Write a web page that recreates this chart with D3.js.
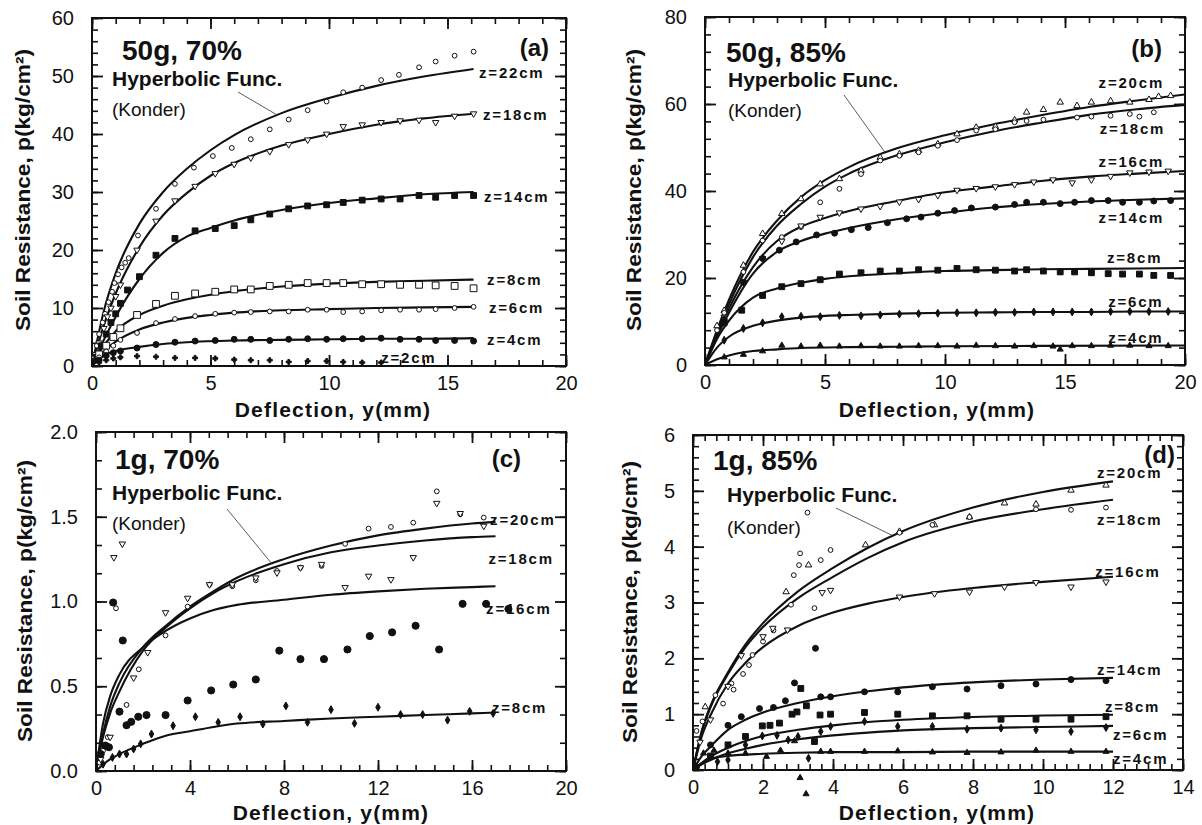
<!DOCTYPE html>
<html>
<head>
<meta charset="utf-8">
<script src="https://cdn.jsdelivr.net/npm/d3@7"></script>
<style>
  body { margin: 0; background: #fff; }
  svg text { font-family: "Liberation Sans", Arial, sans-serif; fill: #111; }
</style>
</head>
<body>
<svg id="chart" width="1202" height="825"></svg>
<script>
// ---------- data: panel (a) 50g, 70% ----------
const aDepths = ["z=22cm", "z=18cm", "z=14cm", "z=8cm", "z=6cm", "z=4cm", "z=2cm"];
const aFit22 = [[0,0],[0.5,9.5],[1,16],[2,24.5],[3,30],[4,34],[5,37.2],[6,39.8],[8,43.6],[10,46.2],[12,48.3],[14,49.9],[16.1,51.2]];
const aFit18 = [[0,0],[0.5,7],[1,12.5],[2,20.5],[3,26],[4,29.8],[5,32.8],[6,35],[8,38],[10,40],[12,41.6],[14,42.7],[16.1,43.5]];
const aFit14 = [[0,0],[0.5,4.5],[1,8.5],[1.5,12],[2,15],[3,19.5],[4,22.3],[5,23.8],[6,25.1],[8,26.9],[10,28.1],[12,28.9],[14,29.6],[16.1,30]];
const aFit8  = [[0,0],[0.5,3.5],[1,6],[2,8.8],[3,10.4],[4,11.5],[5,12.3],[6,12.9],[8,13.7],[10,14.2],[12,14.5],[14,14.7],[16.1,14.9]];
const aFit6  = [[0,0],[0.5,2.5],[1,4.2],[2,6.3],[3,7.5],[4,8.3],[5,8.8],[6,9.2],[8,9.6],[10,9.8],[12,10],[14,10.1],[16.1,10.2]];
const aFit4  = [[0,0],[0.5,1.8],[1,2.6],[2,3.3],[3,3.8],[4,4.1],[6,4.4],[8,4.5],[10,4.6],[12,4.7],[14,4.7],[16.1,4.8]];
const aPts22 = [[0.1,1.5],[0.2,3.5],[0.3,5.5],[0.45,7.5],[0.55,9],[0.7,11],[0.85,12.8],[0.95,14.3],[1.1,15.8],[1.25,17],[1.4,17.8],[1.55,18.6],[1.94,22.5],[2.7,27.1],[3.5,31.4],[4.3,34.2],[5.1,36.2],[5.9,37.6],[6.7,39.1],[7.5,40.8],[8.3,42.5],[9.1,44.1],[9.9,45.6],[10.6,47.2],[11.4,48],[12.2,49.3],[12.95,50.2],[13.8,51.5],[14.5,52.5],[15.3,53.5],[16.1,54.2]];
const aPts18 = [[0.15,2],[0.3,4],[0.5,6.5],[0.65,8.5],[0.8,10],[1,12],[1.2,14],[1.9,20],[2.7,25],[3.5,28.5],[4.35,31],[5.2,33.2],[6,34.8],[6.7,35.9],[7.5,37],[8.3,38.2],[9.1,39],[9.9,40],[10.6,41.3],[11.4,41.6],[12.2,42],[13,42.3],[13.8,42.4],[14.5,42],[15.3,43.1],[16.1,43.5]];
const aPts14 = [[0.2,1.5],[0.4,3.5],[0.6,5.5],[0.8,7.5],[1,9],[1.2,10.8],[1.5,13.1],[2,15.4],[2.7,19.1],[3.5,22],[4.35,23.3],[5.2,23.7],[6,24.2],[6.7,25.2],[7.5,26.2],[8.3,27.1],[9.1,27.6],[9.9,27.8],[10.6,28.2],[11.4,28.6],[12.2,28.8],[13,28.8],[13.8,29.4],[14.5,29.1],[15.3,29.4],[16.1,29.4]];
const aPts8  = [[0.3,2],[0.6,3.5],[0.9,5],[1.2,6.5],[1.9,8.8],[2.7,10.7],[3.5,12.1],[4.35,12.5],[5.2,12.8],[6,13.2],[6.7,13.2],[7.5,13.8],[8.3,14],[9.1,14.3],[9.9,14.3],[10.6,14.3],[11.4,14.1],[12.2,14.1],[13,14],[13.8,14],[14.5,13.9],[15.3,13.8],[16.1,13.4]];
const aPts6  = [[0.3,1.5],[0.6,2.5],[0.9,3.5],[1.2,4.5],[1.9,5.7],[2.7,7.4],[3.5,8.1],[4.35,8.6],[5.2,9],[6,9.2],[6.7,9.3],[7.5,9.4],[8.3,9.4],[9.1,9.7],[9.9,9.7],[10.6,9.3],[11.4,9.4],[12.2,9.6],[13,9.7],[13.8,9.7],[14.5,9.8],[15.3,10],[16.1,10.2]];
const aPts4  = [[0.3,1],[0.6,1.8],[0.9,2.3],[1.2,2.6],[1.9,3.1],[2.7,3.7],[3.5,4.1],[4.35,4.3],[5.2,4.4],[6,4.6],[6.7,4.6],[7.5,4.4],[8.3,4.6],[9.1,4.7],[9.9,4.6],[10.6,4.7],[11.4,4.7],[12.2,4.8],[13,4.6],[13.8,4.6],[14.5,4.4],[15.3,4.4],[16.1,4.3]];
const aPts2  = [[0.3,0.6],[0.6,1],[0.9,1.3],[1.2,1.5],[1.9,1.7],[2.7,1.6],[3.5,1.4],[4.35,1.4],[5.2,1.3],[6,1.1],[6.7,1],[7.5,1],[8.3,0.7],[9.1,0.85],[9.9,0.85],[10.6,0.7],[11.4,0.6],[12.2,0.6]];
const aLabelAt = [[16.33,50.5],[16.5,43.3],[16.54,29.1],[16.67,14.8],[16.75,10],[16.67,4.5],[12.2,1.4]];

// ---------- data: panel (b) 50g, 85% ----------
const bDepths = ["z=20cm", "z=18cm", "z=16cm", "z=14cm", "z=8cm", "z=6cm", "z=4cm"];
const bFit20 = [[0,0],[0.5,8],[1,15],[2,26],[3,33.2],[4,38.6],[5,42.5],[6,45.5],[8,49.8],[10,52.8],[12,55.3],[14,57.4],[16,59.3],[18,60.8],[20,62.2]];
const bFit18 = [[0,0],[0.5,7.5],[1,14],[2,24.8],[3,32],[4,37],[5,41],[6,44],[8,48.2],[10,51.2],[12,53.7],[14,55.7],[16,57.5],[18,58.8],[20,59.8]];
const bFit16 = [[0,0],[0.5,7],[1,13],[2,22.5],[3,28.5],[4,31.8],[5,33.8],[6,35.4],[8,37.7],[10,39.7],[12,41],[14,42.3],[16,43.3],[18,44],[20,44.6]];
const bFit14 = [[0,0],[0.5,6.5],[1,12],[2,21],[3,26],[4,28.5],[5,30.2],[6,31.5],[8,33.5],[10,35],[12,36.2],[14,37],[16,37.6],[18,38],[20,38.3]];
const bFit8  = [[0,0],[0.5,6],[1,10.2],[2,15.5],[3,17.6],[4,18.9],[5,19.8],[6,20.4],[8,21.1],[10,21.6],[12,21.8],[14,22],[16,22.1],[18,22.2],[20,22.3]];
const bFit6  = [[0,0],[0.5,4],[1,6.5],[2,9],[3,10.2],[4,10.9],[5,11.3],[6,11.5],[8,11.8],[10,12],[12,12.1],[14,12.2],[16,12.2],[18,12.3],[20,12.3]];
const bFit4  = [[0,0],[0.5,1.3],[1,2.2],[2,3.2],[3,3.6],[4,3.9],[6,4.1],[8,4.2],[10,4.3],[14,4.4],[20,4.5]];
const bPts20 = [[0.5,9],[0.8,12.5],[1.6,22.9],[2.4,30.2],[3.2,34.8],[4,38.2],[4.8,41.6],[5.6,42.8],[6.5,44.7],[7.3,47.7],[8.1,48.5],[8.9,49.3],[9.7,50.8],[10.5,53.1],[11.3,54.6],[12.1,54.8],[12.9,56.3],[13.4,58.1],[14.1,58.7],[14.8,60.4],[15.5,59.6],[16.1,60.4],[16.9,60.7],[17.7,60.4],[18.5,61],[18.9,61.7],[19.4,61.9]];
const bPts18 = [[0.5,8],[0.8,12],[1.6,21.4],[2.4,28.6],[3.2,29.4],[4,31.7],[4.8,37.4],[5.6,40.5],[6.5,43.9],[7.3,47],[8.1,48.1],[8.9,48.9],[9.7,50.4],[10.5,51.7],[11.3,53.9],[12.1,54.2],[12.9,55.8],[13.4,56.1],[14.1,56.4],[15.5,56.9],[16.1,57.1],[16.9,57.3],[17.7,57.7],[18.1,57.1],[18.7,58.1]];
const bPts16 = [[0.8,11],[1.6,19],[2.4,24.5],[3.2,28.5],[4,32],[4.8,34],[5.6,35],[6.5,35.9],[7.3,36.5],[8.1,37.5],[8.9,38.1],[9.7,39],[10.5,40.2],[11.3,40.6],[12.1,41],[12.9,41.5],[13.7,42.1],[14.5,42.6],[15.3,41.9],[16.1,42.6],[16.9,43.4],[17.7,44.2],[18.5,44.4],[19.3,44.6]];
const bPts14 = [[0.8,10.5],[1.6,19],[2.4,24.5],[3.1,26.4],[3.8,28.3],[4.65,29.9],[5.4,30.3],[6.1,31.1],[6.8,31.6],[7.6,32.7],[8.4,33.6],[9,34],[9.7,34.9],[10.4,35.5],[11.1,36.1],[12.1,36.3],[12.9,36.9],[13.4,37.4],[14.1,37.4],[14.8,37.1],[15.4,37.4],[16.1,37.8],[16.8,37.8],[17.4,37.4],[18.1,37.4],[18.7,37.7],[19.4,37.8]];
const bPts8  = [[0.8,9.7],[1.53,12.6],[2.4,16],[3.2,18],[4,18.7],[4.8,19.6],[5.6,20.9],[6.5,21.2],[7.3,21.6],[8.1,21.6],[8.9,21.9],[9.7,21.8],[10.5,22.2],[11.3,21.9],[12.1,21.8],[12.9,21.6],[13.4,21.9],[14.1,21.6],[14.8,21.4],[15.4,21.4],[16.1,21.2],[16.8,21],[17.4,20.9],[18.1,20.9],[18.7,20.6],[19.4,20.6]];
const bPts6  = [[0.8,5.7],[1.6,8.4],[2.4,9.7],[3.2,11.1],[4,11.2],[4.8,11.1],[5.6,11.4],[6.5,11.3],[7.3,11.5],[8.1,11.7],[8.9,11.8],[9.7,11.9],[10.5,12],[11.3,12],[12.1,12.1],[12.9,12.1],[13.7,12.2],[14.5,12.2],[15.3,12.2],[16.1,12.2],[16.9,12.3],[17.7,12.3],[18.5,12.3],[19.3,12.3]];
const bPts4  = [[0.8,1.8],[1.6,2.4],[2.4,3.2],[3.2,4.5],[4,4.3],[4.8,4.5],[5.6,4.3],[6.5,4.4],[7.3,4.3],[8.1,4.3],[8.9,4.4],[9.7,4.4],[10.5,4.3],[11.3,4.5],[12.1,4.4],[12.9,4.3],[13.7,4.4],[14.5,4.3],[14.8,3.6],[15.3,4.4],[16.1,4.4],[16.9,4.5],[17.7,4.5],[18.5,4.4],[19.3,4.4]];
const bLabelAt = [[16.4,65],[16.45,54.3],[16.4,46.7],[16.4,33.8],[16.75,24.6],[16.8,14.5],[16.8,6.2]];

// ---------- data: panel (c) 1g, 70% ----------
const cDepths = ["z=20cm", "z=18cm", "z=16cm", "z=8cm"];
const cFit20 = [[0,0],[0.3,0.22],[0.6,0.38],[1,0.52],[2,0.73],[3,0.86],[4,0.97],[5,1.06],[6,1.14],[8,1.25],[10,1.33],[12,1.39],[14,1.43],[16,1.46],[17,1.47]];
const cFit18 = [[0,0],[0.3,0.2],[0.6,0.34],[1,0.47],[2,0.71],[3,0.85],[4,0.96],[5,1.05],[6,1.12],[8,1.22],[10,1.29],[12,1.33],[14,1.36],[16,1.38],[17,1.385]];
const cFit16 = [[0,0],[0.3,0.28],[0.6,0.44],[1,0.57],[2,0.73],[3,0.83],[4,0.9],[5,0.95],[6,0.98],[8,1.01],[10,1.04],[12,1.06],[14,1.075],[16,1.085],[17,1.09]];
const cFit8  = [[0,0],[0.5,0.06],[1,0.1],[2,0.16],[3,0.21],[4,0.235],[5,0.26],[6,0.28],[8,0.295],[10,0.31],[12,0.32],[14,0.33],[16,0.34],[17,0.345]];
const cPts20 = [[0.15,0.05],[0.3,0.12],[0.5,0.2],[0.85,0.96],[1.3,0.39],[1.82,0.6],[2.96,0.8],[3.9,0.97],[4.83,1.1],[5.8,1.09],[6.8,1.125],[7.7,1.18],[8.7,1.2],[9.6,1.21],[10.6,1.34],[11.6,1.43],[12.55,1.44],[13.5,1.465],[14.5,1.65],[15.5,1.515],[16.5,1.495]];
const cPts18 = [[0.2,0.07],[0.4,0.15],[0.6,0.2],[0.76,1.26],[1.12,1.34],[1.6,0.55],[2.2,0.7],[2.96,0.935],[3.9,1.02],[4.83,1.1],[5.8,1.1],[6.8,1.14],[7.7,1.17],[8.7,1.2],[9.6,1.22],[10.6,1.083],[11.6,1.15],[12.55,1.13],[13.5,1.26],[14.5,1.58],[15.5,1.52],[16.5,1.445]];
const cPts16 = [[0.2,0.1],[0.4,0.15],[0.55,0.14],[0.73,0.994],[1.14,0.77],[1,0.35],[1.3,0.27],[1.5,0.29],[1.8,0.32],[2.15,0.33],[2.96,0.33],[3.9,0.416],[4.9,0.475],[5.84,0.51],[6.8,0.54],[7.8,0.71],[8.7,0.66],[9.7,0.66],[10.7,0.717],[11.65,0.796],[12.6,0.818],[13.6,0.857],[14.6,0.717],[15.6,0.986],[16.6,0.986],[17.55,0.956]];
const cPts8  = [[0.3,0.04],[0.7,0.08],[1,0.1],[1.3,0.1],[1.6,0.13],[1.9,0.16],[2.36,0.218],[3.28,0.267],[4.23,0.32],[5.2,0.287],[6.13,0.32],[7.1,0.277],[8.08,0.384],[9,0.287],[10,0.362],[11,0.281],[12,0.376],[12.96,0.333],[13.9,0.333],[14.96,0.3],[15.9,0.352],[16.9,0.34]];
const cLabelAt = [[16.77,1.48],[16.7,1.25],[16.6,0.956],[16.85,0.372]];

// ---------- data: panel (d) 1g, 85% ----------
const dDepths = ["z=20cm", "z=18cm", "z=16cm", "z=14cm", "z=8cm", "z=6cm", "z=4cm"];
const dFit20 = [[0,0],[0.25,0.7],[0.5,1.15],[1,1.75],[1.5,2.25],[2,2.63],[3,3.2],[4,3.62],[5,3.98],[6,4.28],[8,4.7],[10,4.98],[12,5.17]];
const dFit18 = [[0,0],[0.25,0.68],[0.5,1.12],[1,1.72],[1.5,2.2],[2,2.56],[3,3.08],[4,3.46],[5,3.8],[6,4.08],[8,4.45],[10,4.67],[12,4.84]];
const dFit16 = [[0,0],[0.25,0.6],[0.5,0.98],[1,1.55],[1.5,1.92],[2,2.2],[3,2.58],[4,2.82],[5,2.98],[6,3.1],[8,3.26],[10,3.37],[12,3.46]];
const dFit14 = [[0,0],[0.25,0.25],[0.5,0.42],[1,0.72],[1.5,0.9],[2,1.03],[3,1.2],[4,1.32],[5,1.41],[6,1.48],[8,1.57],[10,1.62],[12,1.65]];
const dFit8  = [[0,0],[0.25,0.13],[0.5,0.24],[1,0.4],[1.5,0.52],[2,0.61],[3,0.72],[4,0.8],[5,0.86],[6,0.9],[8,0.95],[10,0.975],[12,0.99]];
const dFit6  = [[0,0],[0.25,0.1],[0.5,0.18],[1,0.3],[1.5,0.38],[2,0.45],[3,0.55],[4,0.62],[5,0.67],[6,0.71],[8,0.75],[10,0.77],[12,0.79]];
const dFit4  = [[0,0],[0.25,0.12],[0.5,0.2],[1,0.25],[2,0.29],[3,0.31],[4,0.32],[6,0.32],[8,0.33],[10,0.33],[12,0.33]];
const dPts20 = [[0.35,1.13],[2.66,3.19],[3.3,3.67],[4.93,4.03],[5.9,4.27],[6.9,4.39],[7.9,4.53],[8.9,4.78],[9.8,4.76],[10.8,5.01],[11.8,5.1]];
const dPts18 = [[0.1,0.7],[0.27,0.87],[0.64,1.34],[0.86,1.19],[1.1,1.55],[1.16,1.44],[1.43,1.72],[1.6,1.88],[1.7,2.06],[2,2.3],[2.3,2.5],[2.8,2.96],[2.88,3.49],[3.03,3.67],[3.06,3.88],[3.27,4.61],[3.47,2.9],[3.65,3.76],[3.93,3.94],[5.9,4.25],[6.84,4.39],[7.9,4.53],[9.8,4.67],[10.8,4.66],[11.8,4.7]];
const dPts16 = [[0.2,0.5],[0.5,0.9],[1,1.5],[1.38,2.05],[2,2.39],[2.28,2.54],[2.7,2.51],[3.69,3.18],[3.93,3.22],[5.9,3.1],[6.9,3.16],[7.9,3.19],[8.9,3.28],[9.8,3.36],[10.8,3.28],[11.8,3.37]];
const dPts14 = [[0.1,0.05],[0.5,0.45],[1,0.8],[1.38,0.955],[1.9,1.1],[2.3,1.12],[2.64,1.24],[2.9,1.56],[3.5,2.18],[3.65,1.31],[3.93,1.31],[4.9,1.4],[5.85,1.4],[6.84,1.49],[7.83,1.45],[8.8,1.51],[9.8,1.54],[10.8,1.62],[11.8,1.6]];
const dPts8  = [[0.5,0.25],[1,0.45],[1.5,0.6],[1.98,0.79],[2.2,0.8],[2.47,0.84],[2.83,1],[2.97,1.04],[3.08,1.46],[3.24,1.15],[3.47,0.51],[3.63,0.985],[3.93,1],[4.9,1.03],[5.85,1],[6.84,0.97],[7.83,0.97],[8.8,0.91],[9.8,0.91],[10.8,0.91],[11.8,0.955]];
const dPts6  = [[0.7,0.15],[1,0.18],[1.5,0.45],[1.98,0.61],[2.4,0.62],[2.72,0.54],[3,0.6],[3.3,0.21],[3.65,0.69],[3.93,0.78],[4.9,0.87],[5.85,0.78],[6.84,0.78],[7.83,0.73],[8.8,0.75],[9.8,0.72],[10.8,0.69],[11.8,0.76]];
const dPts4  = [[0.3,0.3],[0.6,0.35],[1,0.3],[1.5,0.3],[2.1,0.24],[2.5,0.35],[2.9,0.52],[3.06,-0.14],[3.23,-0.43],[3.65,0.33],[3.93,0.33],[4.9,0.33],[5.85,0.34],[6.84,0.32],[7.83,0.31],[8.8,0.32],[9.8,0.35],[10.8,0.33],[11.8,0.33]];
const dLabelAt = [[11.54,5.32],[11.54,4.48],[11.49,3.55],[11.54,1.79],[11.77,1.13],[12,0.63],[12,0.2]];

// ---------- marker styles ----------
const markers = {
  oc:  {type: d3.symbolCircle,   size: 18, filled: false, rot: 0},
  otd: {type: d3.symbolTriangle, size: 18, filled: false, rot: 180},
  otu: {type: d3.symbolTriangle, size: 18, filled: false, rot: 0},
  fsq: {type: d3.symbolSquare,   size: 34, filled: true,  rot: 0},
  osq: {type: d3.symbolSquare,   size: 46, filled: false, rot: 0},
  fc:  {type: d3.symbolCircle,   size: 28, filled: true,  rot: 0},
  fcl: {type: d3.symbolCircle,   size: 40, filled: true,  rot: 0},
  fd:  {type: d3.symbolDiamond,  size: 18, filled: true,  rot: 0},
  ftu: {type: d3.symbolTriangle, size: 16, filled: true,  rot: 0},
  plus:{type: d3.symbolCross,    size: 14, filled: true,  rot: 0}
};

const svg = d3.select("#chart");

function drawPanel(p) {
  const x = d3.scaleLinear().domain(p.xDom).range([p.box[0], p.box[1]]);
  const y = d3.scaleLinear().domain(p.yDom).range([p.box[3], p.box[2]]);
  const g = svg.append("g");
  const steps = (dom, st) => d3.range(0, Math.round((dom[1] - dom[0]) / st) + 1).map(i => +(dom[0] + i * st).toFixed(4));
  const xMaj = steps(p.xDom, p.xStep), xMin = steps(p.xDom, p.xMinor);
  const yMaj = steps(p.yDom, p.yStep), yMin = steps(p.yDom, p.yMinor);

  // inward ticks on all four sides
  const tickAxes = [
    [d3.axisBottom(x), `translate(0,${p.box[3]})`, xMin, xMaj],
    [d3.axisTop(x), `translate(0,${p.box[2]})`, xMin, xMaj],
    [d3.axisLeft(y), `translate(${p.box[0]},0)`, yMin, yMaj],
    [d3.axisRight(y), `translate(${p.box[1]},0)`, yMin, yMaj]
  ];
  tickAxes.forEach(([ax, tr, mn, mj]) => {
    g.append("g").attr("transform", tr)
      .call(ax.tickValues(mn).tickSize(-6).tickFormat(""))
      .call(s => s.select(".domain").remove())
      .selectAll("line").attr("stroke", "#111").attr("stroke-width", 1.6);
    g.append("g").attr("transform", tr)
      .call(ax.tickValues(mj).tickSize(-11).tickFormat(""))
      .call(s => s.select(".domain").remove())
      .selectAll("line").attr("stroke", "#111").attr("stroke-width", 1.8);
  });

  // tick labels
  g.append("g").attr("transform", `translate(0,${p.box[3]})`)
    .call(d3.axisBottom(x).tickValues(xMaj).tickSize(0).tickPadding(10).tickFormat(d3.format("d")))
    .call(s => s.select(".domain").remove())
    .selectAll("text").attr("font-size", 20).attr("fill", "#111");
  g.append("g").attr("transform", `translate(${p.box[0]},0)`)
    .call(d3.axisLeft(y).tickValues(yMaj).tickSize(0).tickPadding(18).tickFormat(d3.format(p.yFmt)))
    .call(s => s.select(".domain").remove())
    .selectAll("text").attr("font-size", 20).attr("fill", "#111");

  // frame
  g.append("rect")
    .attr("x", p.box[0]).attr("y", p.box[2])
    .attr("width", p.box[1] - p.box[0]).attr("height", p.box[3] - p.box[2])
    .attr("fill", "none").attr("stroke", "#111").attr("stroke-width", 2);

  // fitted hyperbolic curves
  const line = d3.line().x(d => x(d[0])).y(d => y(d[1])).curve(d3.curveMonotoneX);
  g.selectAll(".fit").data(p.fits).join("path")
    .attr("class", "fit")
    .attr("d", line)
    .attr("fill", "none").attr("stroke", "#111").attr("stroke-width", 2.1);

  // measured points
  p.pts.forEach((set, i) => {
    const m = markers[p.kinds[i]];
    const sym = d3.symbol().type(m.type).size(m.size);
    g.selectAll(null).data(set).join("path")
      .attr("d", sym)
      .attr("transform", d => `translate(${x(d[0])},${y(d[1])}) rotate(${m.rot})`)
      .attr("fill", m.filled ? "#111" : "#fff")
      .attr("stroke", "#111").attr("stroke-width", 1);
  });

  // depth labels
  g.selectAll(".zlab").data(p.depths).join("text")
    .attr("class", "zlab")
    .attr("x", (d, i) => x(p.labelAt[i][0]))
    .attr("y", (d, i) => y(p.labelAt[i][1]))
    .attr("dy", "0.35em")
    .attr("font-size", 15).attr("font-weight", "bold").attr("letter-spacing", "1.8px")
    .text(d => d);

  // annotations
  g.append("text").attr("x", p.title[1]).attr("y", p.title[2]).attr("dy", "0.35em")
    .attr("font-size", 28).attr("font-weight", "bold").text(p.title[0]);
  g.append("text").attr("x", p.hyper[0]).attr("y", p.hyper[1]).attr("dy", "0.35em")
    .attr("font-size", 21).attr("font-weight", "bold").text("Hyperbolic Func.");
  g.append("text").attr("x", p.konder[0]).attr("y", p.konder[1]).attr("dy", "0.35em")
    .attr("font-size", 19).text("(Konder)");
  g.append("text").attr("x", p.tag[1]).attr("y", p.tag[2]).attr("dy", "0.35em")
    .attr("text-anchor", "end").attr("font-size", 24).attr("font-weight", "bold").text(p.tag[0]);
  g.append("line")
    .attr("x1", p.leader[0]).attr("y1", p.leader[1])
    .attr("x2", x(p.leaderTo[0])).attr("y2", y(p.leaderTo[1]))
    .attr("stroke", "#333").attr("stroke-width", 0.8);

  // axis titles
  g.append("text").attr("x", p.xTitle[0]).attr("y", p.xTitle[1]).attr("dy", "0.35em")
    .attr("text-anchor", "middle").attr("font-size", 21).attr("font-weight", "bold")
    .attr("letter-spacing", "1.2px").text("Deflection, y(mm)");
  g.append("text")
    .attr("transform", `translate(${p.yTitle[0]},${p.yTitle[1]}) rotate(-90)`)
    .attr("dy", "0.35em").attr("text-anchor", "middle")
    .attr("font-size", 21).attr("font-weight", "bold")
    .attr("textLength", 282).attr("lengthAdjust", "spacingAndGlyphs")
    .text("Soil Resistance, p(kg/cm²)");
}

drawPanel({
  box: [92, 566, 18, 366], xDom: [0, 20], yDom: [0, 60],
  xStep: 5, xMinor: 1, yStep: 10, yMinor: 2, yFmt: "d",
  fits: [aFit22, aFit18, aFit14, aFit8, aFit6, aFit4],
  pts: [aPts22, aPts18, aPts14, aPts8, aPts6, aPts4, aPts2],
  kinds: ["oc", "otd", "fsq", "osq", "oc", "fc", "plus"],
  depths: aDepths, labelAt: aLabelAt,
  title: ["50g, 70%", 122, 50], hyper: [112, 79], konder: [112, 109], tag: ["(a)", 549, 48],
  leader: [238, 92], leaderTo: [7.8, 43.3],
  xTitle: [333, 410], yTitle: [23, 190]
});
drawPanel({
  box: [705, 1185, 17, 365], xDom: [0, 20], yDom: [0, 80],
  xStep: 5, xMinor: 1, yStep: 20, yMinor: 4, yFmt: "d",
  fits: [bFit20, bFit18, bFit16, bFit14, bFit8, bFit6, bFit4],
  pts: [bPts20, bPts18, bPts16, bPts14, bPts8, bPts6, bPts4],
  kinds: ["otu", "oc", "otd", "fc", "fsq", "fd", "ftu"],
  depths: bDepths, labelAt: bLabelAt,
  title: ["50g, 85%", 726, 52], hyper: [728, 80], konder: [728, 110], tag: ["(b)", 1162, 49],
  leader: [844, 95], leaderTo: [7.5, 48.9],
  xTitle: [937, 410], yTitle: [634, 190]
});
drawPanel({
  box: [96, 566, 432, 771], xDom: [0, 20], yDom: [0, 2],
  xStep: 4, xMinor: 0.8, yStep: 0.5, yMinor: 0.5 / 3, yFmt: ".1f",
  fits: [cFit20, cFit18, cFit16, cFit8],
  pts: [cPts20, cPts18, cPts16, cPts8],
  kinds: ["oc", "otd", "fcl", "fd"],
  depths: cDepths, labelAt: cLabelAt,
  title: ["1g, 70%", 115, 459], hyper: [112, 493], konder: [112, 523], tag: ["(c)", 521, 459],
  leader: [227, 509], leaderTo: [7.5, 1.22],
  xTitle: [331, 813], yTitle: [25, 601]
});
drawPanel({
  box: [693, 1183, 435, 770], xDom: [0, 14], yDom: [0, 6],
  xStep: 2, xMinor: 1 / 3, yStep: 1, yMinor: 0.2, yFmt: "d",
  fits: [dFit20, dFit18, dFit16, dFit14, dFit8, dFit6, dFit4],
  pts: [dPts20, dPts18, dPts16, dPts14, dPts8, dPts6, dPts4],
  kinds: ["otu", "oc", "otd", "fc", "fsq", "fd", "ftu"],
  depths: dDepths, labelAt: dLabelAt,
  title: ["1g, 85%", 713, 460], hyper: [727, 495], konder: [727, 527], tag: ["(d)", 1175, 455],
  leader: [836, 508], leaderTo: [5.7, 4.2],
  xTitle: [937, 813], yTitle: [630, 602]
});
</script>
</body>
</html>
